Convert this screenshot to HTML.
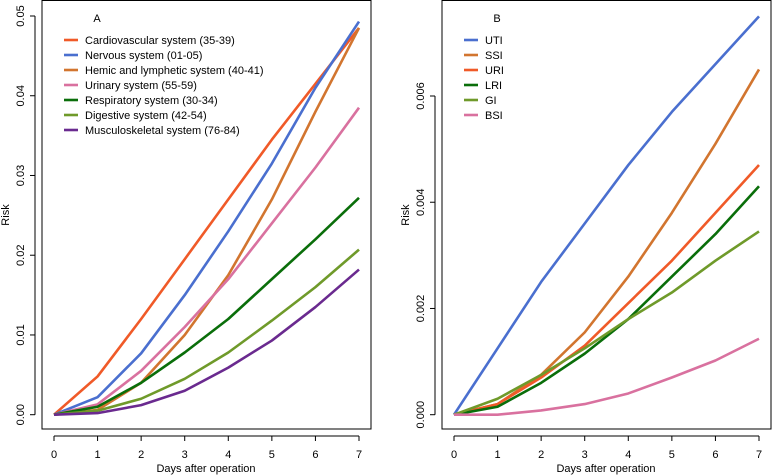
<!DOCTYPE html>
<html><head><meta charset="utf-8"><style>
body{margin:0;background:#fff}
svg{display:block;font-family:"Liberation Sans",Arial,sans-serif}
</style></head><body>
<svg id="c" width="772" height="475" viewBox="0 0 772 475"></svg>
<script>
const days=[0,1,2,3,4,5,6,7];
const namesA=["Cardiovascular system (35-39)","Nervous system (01-05)","Hemic and lymphetic system (40-41)","Urinary system (55-59)","Respiratory system (30-34)","Digestive system (42-54)","Musculoskeletal system (76-84)"];
const cardio=[0,.0048,.012,.0195,.027,.0345,.0415,.0485];
const nervous=[0,.0022,.0077,.015,.023,.0315,.041,.0493];
const hemic=[0,.0006,.004,.010,.0175,.027,.038,.0485];
const urinary=[0,.0013,.0055,.011,.017,.024,.031,.0385];
const resp=[0,.001,.004,.0078,.012,.017,.022,.0272];
const digest=[0,.0005,.002,.0045,.0078,.0118,.016,.0207];
const musculo=[0,.0002,.0012,.003,.0059,.0093,.0135,.0182];
const ticksA=["0.00","0.01","0.02","0.03","0.04","0.05"];
const namesB=["UTI","SSI","URI","LRI","GI","BSI"];
const uti=[0,.00125,.0025,.0036,.0047,.0057,.0066,.0075];
const ssi=[0,.0002,.00075,.00155,.0026,.0038,.0051,.0065];
const uri=[0,.0002,.0007,.0013,.0021,.0029,.0038,.0047];
const lri=[0,.00015,.0006,.00115,.0018,.0026,.0034,.0043];
const gi=[0,.0003,.00075,.00125,.0018,.0023,.0029,.00345];
const bsi=[0,0,.00008,.0002,.0004,.0007,.00102,.00143];
const ticksB=["0.000","0.002","0.004","0.006"];

const svg=document.getElementById('c');
const NS="http://www.w3.org/2000/svg";
function mk(t,a,p){const e=document.createElementNS(NS,t);for(const k in a)e.setAttribute(k,a[k]);(p||svg).appendChild(e);return e;}
const colA=["#f05a28","#4a6fcf","#d2752f","#d9719f","#0a6e0a","#6f9a2a","#6a2a8f"];
const colB=["#4a6fcf","#d2752f","#f05a28","#0a6e0a","#6f9a2a","#d9719f"];

function panel(off,label,names,series,cols,ticks,ystep,ymaxY,ymaxV){
  const g=mk('g',{});
  
  
  const x=d=>off+54+d*(305/7);
  const y=v=>414.7-v*(414.7-ymaxY)/ymaxV;
  const box=mk('rect',{x:off+42,y:0.5,width:329,height:428.5,fill:'none',stroke:'#000','stroke-width':1},g);
  
  // x axis
  const xa=mk('g',{},g);
  mk('line',{x1:x(0),x2:x(7),y1:436,y2:436,stroke:'#000'},xa);
  days.forEach(d=>{mk('line',{x1:x(d),x2:x(d),y1:436,y2:441,stroke:'#000'},xa);
    const t=mk('text',{x:x(d),y:458,'text-anchor':'middle','font-size':11},xa);t.textContent=d;});
  const xt=mk('text',{x:off+206,y:472,'text-anchor':'middle','font-size':11},g);xt.textContent="Days after operation";
  
  // y axis
  const ya=mk('g',{},g);
  mk('line',{x1:off+35,x2:off+35,y1:y(0),y2:y((ticks.length-1)*ystep),stroke:'#000'},ya);
  ticks.forEach((s,i)=>{const yy=y(i*ystep);mk('line',{x1:off+30,x2:off+35,y1:yy,y2:yy,stroke:'#000'},ya);
    const t=mk('text',{x:off+24,y:yy,'text-anchor':'middle','font-size':11,transform:`rotate(-90 ${off+24} ${yy})`},ya);t.textContent=s;});
  const yt=mk('text',{x:off+9,y:215,'text-anchor':'middle','font-size':11,transform:`rotate(-90 ${off+9} 215)`},g);yt.textContent="Risk";
  
  series.forEach((s,i)=>{
    const p=mk('polyline',{points:s.map((v,j)=>x(days[j])+','+y(v)).join(' '),fill:'none',stroke:cols[i],'stroke-width':2.6,'stroke-linejoin':'round'},g);
    
    
  });
  const pl=mk('text',{x:off+97,y:22,'text-anchor':'middle','font-size':11},g);pl.textContent=label;
  
  names.forEach((n,i)=>{
    const le=mk('g',{},g);
    const yy=40+i*15;
    mk('line',{x1:off+64,x2:off+78,y1:yy,y2:yy,stroke:cols[i],'stroke-width':2.6},le);
    const t=mk('text',{x:off+85,y:yy+4,'font-size':11},le);t.textContent=n;
  });
}
panel(0,"A",namesA,[cardio,nervous,hemic,urinary,resp,digest,musculo],colA,ticksA,0.01,16,0.05);
panel(400,"B",namesB,[uti,ssi,uri,lri,gi,bsi],colB,ticksB,0.002,96,0.006);
</script>
</body></html>
